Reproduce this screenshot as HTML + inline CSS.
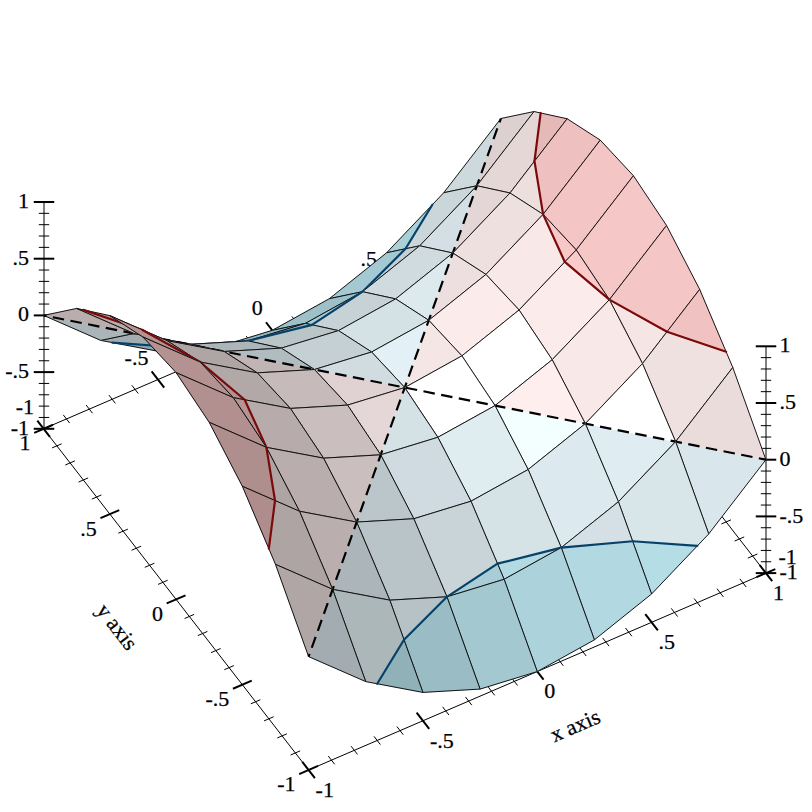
<!DOCTYPE html>
<html><head><meta charset="utf-8"><style>
html,body{margin:0;padding:0;background:#fff;}
svg{display:block;}
text{font-family:"Liberation Serif",serif;font-size:22px;fill:#000;stroke:#000;stroke-width:0.25px;}
</style></head><body>
<svg width="812" height="812" viewBox="0 0 812 812">
<rect width="812" height="812" fill="#fff"/>
<line x1="308.60" y1="770.00" x2="765.90" y2="573.10" stroke="#000" stroke-width="1.0"/>
<line x1="314.89" y1="778.10" x2="302.31" y2="761.90" stroke="#000" stroke-width="2.0"/>
<line x1="334.65" y1="764.26" x2="328.28" y2="756.05" stroke="#000" stroke-width="1.0"/>
<line x1="357.52" y1="754.42" x2="351.14" y2="746.20" stroke="#000" stroke-width="1.0"/>
<line x1="380.38" y1="744.57" x2="374.01" y2="736.36" stroke="#000" stroke-width="1.0"/>
<line x1="403.25" y1="734.73" x2="396.87" y2="726.51" stroke="#000" stroke-width="1.0"/>
<line x1="429.21" y1="728.87" x2="416.64" y2="712.68" stroke="#000" stroke-width="2.0"/>
<line x1="448.98" y1="715.04" x2="442.60" y2="706.82" stroke="#000" stroke-width="1.0"/>
<line x1="471.84" y1="705.19" x2="465.47" y2="696.98" stroke="#000" stroke-width="1.0"/>
<line x1="494.71" y1="695.35" x2="488.33" y2="687.13" stroke="#000" stroke-width="1.0"/>
<line x1="517.57" y1="685.50" x2="511.20" y2="677.29" stroke="#000" stroke-width="1.0"/>
<line x1="543.54" y1="679.65" x2="530.96" y2="663.45" stroke="#000" stroke-width="2.0"/>
<line x1="563.30" y1="665.81" x2="556.93" y2="657.60" stroke="#000" stroke-width="1.0"/>
<line x1="586.17" y1="655.97" x2="579.79" y2="647.75" stroke="#000" stroke-width="1.0"/>
<line x1="609.03" y1="646.12" x2="602.66" y2="637.91" stroke="#000" stroke-width="1.0"/>
<line x1="631.90" y1="636.28" x2="625.52" y2="628.06" stroke="#000" stroke-width="1.0"/>
<line x1="657.86" y1="630.42" x2="645.29" y2="614.23" stroke="#000" stroke-width="2.0"/>
<line x1="677.63" y1="616.59" x2="671.25" y2="608.37" stroke="#000" stroke-width="1.0"/>
<line x1="700.49" y1="606.74" x2="694.12" y2="598.53" stroke="#000" stroke-width="1.0"/>
<line x1="723.36" y1="596.90" x2="716.98" y2="588.68" stroke="#000" stroke-width="1.0"/>
<line x1="746.22" y1="587.05" x2="739.85" y2="578.84" stroke="#000" stroke-width="1.0"/>
<line x1="772.19" y1="581.20" x2="759.61" y2="565.00" stroke="#000" stroke-width="2.0"/>
<line x1="308.60" y1="770.00" x2="43.60" y2="428.80" stroke="#000" stroke-width="1.0"/>
<line x1="299.19" y1="774.05" x2="318.01" y2="765.95" stroke="#000" stroke-width="2.0"/>
<line x1="290.57" y1="755.00" x2="300.13" y2="750.88" stroke="#000" stroke-width="1.0"/>
<line x1="277.32" y1="737.94" x2="286.88" y2="733.82" stroke="#000" stroke-width="1.0"/>
<line x1="264.07" y1="720.88" x2="273.63" y2="716.76" stroke="#000" stroke-width="1.0"/>
<line x1="250.82" y1="703.82" x2="260.38" y2="699.70" stroke="#000" stroke-width="1.0"/>
<line x1="232.94" y1="688.75" x2="251.76" y2="680.65" stroke="#000" stroke-width="2.0"/>
<line x1="224.32" y1="669.70" x2="233.88" y2="665.58" stroke="#000" stroke-width="1.0"/>
<line x1="211.07" y1="652.64" x2="220.63" y2="648.52" stroke="#000" stroke-width="1.0"/>
<line x1="197.82" y1="635.58" x2="207.38" y2="631.46" stroke="#000" stroke-width="1.0"/>
<line x1="184.57" y1="618.52" x2="194.13" y2="614.40" stroke="#000" stroke-width="1.0"/>
<line x1="166.69" y1="603.45" x2="185.51" y2="595.35" stroke="#000" stroke-width="2.0"/>
<line x1="158.07" y1="584.40" x2="167.63" y2="580.28" stroke="#000" stroke-width="1.0"/>
<line x1="144.82" y1="567.34" x2="154.38" y2="563.22" stroke="#000" stroke-width="1.0"/>
<line x1="131.57" y1="550.28" x2="141.13" y2="546.16" stroke="#000" stroke-width="1.0"/>
<line x1="118.32" y1="533.22" x2="127.88" y2="529.10" stroke="#000" stroke-width="1.0"/>
<line x1="100.44" y1="518.15" x2="119.26" y2="510.05" stroke="#000" stroke-width="2.0"/>
<line x1="91.82" y1="499.10" x2="101.38" y2="494.98" stroke="#000" stroke-width="1.0"/>
<line x1="78.57" y1="482.04" x2="88.13" y2="477.92" stroke="#000" stroke-width="1.0"/>
<line x1="65.32" y1="464.98" x2="74.88" y2="460.86" stroke="#000" stroke-width="1.0"/>
<line x1="52.07" y1="447.92" x2="61.63" y2="443.80" stroke="#000" stroke-width="1.0"/>
<line x1="34.19" y1="432.85" x2="53.01" y2="424.75" stroke="#000" stroke-width="2.0"/>
<line x1="43.60" y1="428.80" x2="500.90" y2="231.90" stroke="#000" stroke-width="1.0"/>
<line x1="49.89" y1="436.90" x2="37.31" y2="420.70" stroke="#000" stroke-width="2.0"/>
<line x1="69.65" y1="423.06" x2="63.28" y2="414.85" stroke="#000" stroke-width="1.0"/>
<line x1="92.52" y1="413.22" x2="86.14" y2="405.00" stroke="#000" stroke-width="1.0"/>
<line x1="115.38" y1="403.37" x2="109.01" y2="395.16" stroke="#000" stroke-width="1.0"/>
<line x1="138.25" y1="393.53" x2="131.87" y2="385.31" stroke="#000" stroke-width="1.0"/>
<line x1="164.21" y1="387.67" x2="151.64" y2="371.48" stroke="#000" stroke-width="2.0"/>
<line x1="183.98" y1="373.84" x2="177.60" y2="365.62" stroke="#000" stroke-width="1.0"/>
<line x1="206.84" y1="363.99" x2="200.47" y2="355.78" stroke="#000" stroke-width="1.0"/>
<line x1="229.71" y1="354.15" x2="223.33" y2="345.93" stroke="#000" stroke-width="1.0"/>
<line x1="252.57" y1="344.30" x2="246.20" y2="336.09" stroke="#000" stroke-width="1.0"/>
<line x1="278.54" y1="338.45" x2="265.96" y2="322.25" stroke="#000" stroke-width="2.0"/>
<line x1="298.30" y1="324.61" x2="291.93" y2="316.40" stroke="#000" stroke-width="1.0"/>
<line x1="321.17" y1="314.77" x2="314.79" y2="306.55" stroke="#000" stroke-width="1.0"/>
<line x1="344.03" y1="304.92" x2="337.66" y2="296.71" stroke="#000" stroke-width="1.0"/>
<line x1="366.90" y1="295.08" x2="360.52" y2="286.86" stroke="#000" stroke-width="1.0"/>
<line x1="392.86" y1="289.22" x2="380.29" y2="273.03" stroke="#000" stroke-width="2.0"/>
<line x1="412.63" y1="275.39" x2="406.25" y2="267.17" stroke="#000" stroke-width="1.0"/>
<line x1="435.49" y1="265.54" x2="429.12" y2="257.33" stroke="#000" stroke-width="1.0"/>
<line x1="458.36" y1="255.70" x2="451.98" y2="247.48" stroke="#000" stroke-width="1.0"/>
<line x1="481.22" y1="245.85" x2="474.85" y2="237.64" stroke="#000" stroke-width="1.0"/>
<line x1="507.19" y1="240.00" x2="494.61" y2="223.80" stroke="#000" stroke-width="2.0"/>
<line x1="765.90" y1="573.10" x2="500.90" y2="231.90" stroke="#000" stroke-width="1.0"/>
<line x1="756.49" y1="577.15" x2="775.31" y2="569.05" stroke="#000" stroke-width="2.0"/>
<line x1="747.87" y1="558.10" x2="757.43" y2="553.98" stroke="#000" stroke-width="1.0"/>
<line x1="734.62" y1="541.04" x2="744.18" y2="536.92" stroke="#000" stroke-width="1.0"/>
<line x1="721.37" y1="523.98" x2="730.93" y2="519.86" stroke="#000" stroke-width="1.0"/>
<line x1="708.12" y1="506.92" x2="717.68" y2="502.80" stroke="#000" stroke-width="1.0"/>
<line x1="690.24" y1="491.85" x2="709.06" y2="483.75" stroke="#000" stroke-width="2.0"/>
<line x1="681.62" y1="472.80" x2="691.18" y2="468.68" stroke="#000" stroke-width="1.0"/>
<line x1="668.37" y1="455.74" x2="677.93" y2="451.62" stroke="#000" stroke-width="1.0"/>
<line x1="655.12" y1="438.68" x2="664.68" y2="434.56" stroke="#000" stroke-width="1.0"/>
<line x1="641.87" y1="421.62" x2="651.43" y2="417.50" stroke="#000" stroke-width="1.0"/>
<line x1="623.99" y1="406.55" x2="642.81" y2="398.45" stroke="#000" stroke-width="2.0"/>
<line x1="615.37" y1="387.50" x2="624.93" y2="383.38" stroke="#000" stroke-width="1.0"/>
<line x1="602.12" y1="370.44" x2="611.68" y2="366.32" stroke="#000" stroke-width="1.0"/>
<line x1="588.87" y1="353.38" x2="598.43" y2="349.26" stroke="#000" stroke-width="1.0"/>
<line x1="575.62" y1="336.32" x2="585.18" y2="332.20" stroke="#000" stroke-width="1.0"/>
<line x1="557.74" y1="321.25" x2="576.56" y2="313.15" stroke="#000" stroke-width="2.0"/>
<line x1="549.12" y1="302.20" x2="558.68" y2="298.08" stroke="#000" stroke-width="1.0"/>
<line x1="535.87" y1="285.14" x2="545.43" y2="281.02" stroke="#000" stroke-width="1.0"/>
<line x1="522.62" y1="268.08" x2="532.18" y2="263.96" stroke="#000" stroke-width="1.0"/>
<line x1="509.37" y1="251.02" x2="518.93" y2="246.90" stroke="#000" stroke-width="1.0"/>
<line x1="491.49" y1="235.95" x2="510.31" y2="227.85" stroke="#000" stroke-width="2.0"/>
<line x1="44.00" y1="428.80" x2="44.00" y2="202.00" stroke="#000" stroke-width="1.0"/>
<line x1="33.75" y1="428.80" x2="54.25" y2="428.80" stroke="#000" stroke-width="2.0"/>
<line x1="38.80" y1="417.46" x2="49.20" y2="417.46" stroke="#000" stroke-width="1.0"/>
<line x1="38.80" y1="406.12" x2="49.20" y2="406.12" stroke="#000" stroke-width="1.0"/>
<line x1="38.80" y1="394.78" x2="49.20" y2="394.78" stroke="#000" stroke-width="1.0"/>
<line x1="38.80" y1="383.44" x2="49.20" y2="383.44" stroke="#000" stroke-width="1.0"/>
<line x1="33.75" y1="372.10" x2="54.25" y2="372.10" stroke="#000" stroke-width="2.0"/>
<line x1="38.80" y1="360.76" x2="49.20" y2="360.76" stroke="#000" stroke-width="1.0"/>
<line x1="38.80" y1="349.42" x2="49.20" y2="349.42" stroke="#000" stroke-width="1.0"/>
<line x1="38.80" y1="338.08" x2="49.20" y2="338.08" stroke="#000" stroke-width="1.0"/>
<line x1="38.80" y1="326.74" x2="49.20" y2="326.74" stroke="#000" stroke-width="1.0"/>
<line x1="33.75" y1="315.40" x2="54.25" y2="315.40" stroke="#000" stroke-width="2.0"/>
<line x1="38.80" y1="304.06" x2="49.20" y2="304.06" stroke="#000" stroke-width="1.0"/>
<line x1="38.80" y1="292.72" x2="49.20" y2="292.72" stroke="#000" stroke-width="1.0"/>
<line x1="38.80" y1="281.38" x2="49.20" y2="281.38" stroke="#000" stroke-width="1.0"/>
<line x1="38.80" y1="270.04" x2="49.20" y2="270.04" stroke="#000" stroke-width="1.0"/>
<line x1="33.75" y1="258.70" x2="54.25" y2="258.70" stroke="#000" stroke-width="2.0"/>
<line x1="38.80" y1="247.36" x2="49.20" y2="247.36" stroke="#000" stroke-width="1.0"/>
<line x1="38.80" y1="236.02" x2="49.20" y2="236.02" stroke="#000" stroke-width="1.0"/>
<line x1="38.80" y1="224.68" x2="49.20" y2="224.68" stroke="#000" stroke-width="1.0"/>
<line x1="38.80" y1="213.34" x2="49.20" y2="213.34" stroke="#000" stroke-width="1.0"/>
<line x1="33.75" y1="202.00" x2="54.25" y2="202.00" stroke="#000" stroke-width="2.0"/>
<line x1="766.00" y1="573.10" x2="766.00" y2="346.30" stroke="#000" stroke-width="1.0"/>
<line x1="755.75" y1="573.10" x2="776.25" y2="573.10" stroke="#000" stroke-width="2.0"/>
<line x1="760.80" y1="561.76" x2="771.20" y2="561.76" stroke="#000" stroke-width="1.0"/>
<line x1="760.80" y1="550.42" x2="771.20" y2="550.42" stroke="#000" stroke-width="1.0"/>
<line x1="760.80" y1="539.08" x2="771.20" y2="539.08" stroke="#000" stroke-width="1.0"/>
<line x1="760.80" y1="527.74" x2="771.20" y2="527.74" stroke="#000" stroke-width="1.0"/>
<line x1="755.75" y1="516.40" x2="776.25" y2="516.40" stroke="#000" stroke-width="2.0"/>
<line x1="760.80" y1="505.06" x2="771.20" y2="505.06" stroke="#000" stroke-width="1.0"/>
<line x1="760.80" y1="493.72" x2="771.20" y2="493.72" stroke="#000" stroke-width="1.0"/>
<line x1="760.80" y1="482.38" x2="771.20" y2="482.38" stroke="#000" stroke-width="1.0"/>
<line x1="760.80" y1="471.04" x2="771.20" y2="471.04" stroke="#000" stroke-width="1.0"/>
<line x1="755.75" y1="459.70" x2="776.25" y2="459.70" stroke="#000" stroke-width="2.0"/>
<line x1="760.80" y1="448.36" x2="771.20" y2="448.36" stroke="#000" stroke-width="1.0"/>
<line x1="760.80" y1="437.02" x2="771.20" y2="437.02" stroke="#000" stroke-width="1.0"/>
<line x1="760.80" y1="425.68" x2="771.20" y2="425.68" stroke="#000" stroke-width="1.0"/>
<line x1="760.80" y1="414.34" x2="771.20" y2="414.34" stroke="#000" stroke-width="1.0"/>
<line x1="755.75" y1="403.00" x2="776.25" y2="403.00" stroke="#000" stroke-width="2.0"/>
<line x1="760.80" y1="391.66" x2="771.20" y2="391.66" stroke="#000" stroke-width="1.0"/>
<line x1="760.80" y1="380.32" x2="771.20" y2="380.32" stroke="#000" stroke-width="1.0"/>
<line x1="760.80" y1="368.98" x2="771.20" y2="368.98" stroke="#000" stroke-width="1.0"/>
<line x1="760.80" y1="357.64" x2="771.20" y2="357.64" stroke="#000" stroke-width="1.0"/>
<line x1="755.75" y1="346.30" x2="776.25" y2="346.30" stroke="#000" stroke-width="2.0"/>
<text transform="translate(29.00,434.70)" text-anchor="end">-1</text>
<text transform="translate(29.00,378.00)" text-anchor="end">-.5</text>
<text transform="translate(29.00,321.30)" text-anchor="end">0</text>
<text transform="translate(29.00,264.60)" text-anchor="end">.5</text>
<text transform="translate(29.00,207.90)" text-anchor="end">1</text>
<text transform="translate(779.50,579.20)" text-anchor="start">-1</text>
<text transform="translate(779.50,522.50)" text-anchor="start">-.5</text>
<text transform="translate(779.50,465.80)" text-anchor="start">0</text>
<text transform="translate(779.50,409.10)" text-anchor="start">.5</text>
<text transform="translate(779.50,352.40)" text-anchor="start">1</text>
<text transform="translate(315.60,796.90)" text-anchor="start">-1</text>
<text transform="translate(429.93,747.67)" text-anchor="start">-.5</text>
<text transform="translate(544.25,698.45)" text-anchor="start">0</text>
<text transform="translate(658.58,649.22)" text-anchor="start">.5</text>
<text transform="translate(772.90,600.00)" text-anchor="start">1</text>
<text transform="translate(295.60,791.40)" text-anchor="end">-1</text>
<text transform="translate(229.35,706.10)" text-anchor="end">-.5</text>
<text transform="translate(163.10,620.80)" text-anchor="end">0</text>
<text transform="translate(96.85,535.50)" text-anchor="end">.5</text>
<text transform="translate(30.60,450.20)" text-anchor="end">1</text>
<text transform="translate(34.10,413.80)" text-anchor="end">-1</text>
<text transform="translate(148.43,364.58)" text-anchor="end">-.5</text>
<text transform="translate(262.75,315.35)" text-anchor="end">0</text>
<text transform="translate(377.08,266.12)" text-anchor="end">.5</text>
<text transform="translate(491.40,216.90)" text-anchor="end">1</text>
<text transform="translate(778.40,563.60)" text-anchor="start">-1</text>
<text transform="translate(712.15,478.30)" text-anchor="start">-.5</text>
<text transform="translate(645.90,393.00)" text-anchor="start">0</text>
<text transform="translate(579.65,307.70)" text-anchor="start">.5</text>
<text transform="translate(513.40,222.40)" text-anchor="start">1</text>
<text transform="translate(575.2,725.7) rotate(-23.3) translate(0,7.2)" text-anchor="middle">x axis</text>
<text transform="translate(117,626.8) rotate(52.2) translate(0,7.2)" text-anchor="middle">y axis</text>
<polygon points="476.86,185.76 476.86,185.76 500.90,118.50 500.90,118.50 443.74,192.72" fill="#cdd9dd" stroke="#cdd9dd" stroke-width="0.6"/>
<polygon points="476.86,185.76 534.02,111.54 500.90,118.50 500.90,118.50 476.86,185.76" fill="#ddd0d0" stroke="#ddd0d0" stroke-width="0.6"/>
<polygon points="476.86,185.76 534.02,111.54 500.90,118.50 443.74,192.72" fill="none" stroke="#000" stroke-width="0.9"/>
<line x1="476.86" y1="185.76" x2="500.90" y2="118.50" stroke="#000" stroke-width="2.2" stroke-dasharray="11.5,6.5" stroke-dashoffset="508.60"/>
<polygon points="432.31,204.74 386.58,252.78 405.50,248.80" fill="#a9cfd7" stroke="#a9cfd7" stroke-width="0.6"/>
<polygon points="419.70,245.81 476.86,185.76 443.74,192.72 432.31,204.74 405.50,248.80" fill="#cad6da" stroke="#cad6da" stroke-width="0.6"/>
<polygon points="476.86,185.76 476.86,185.76 476.86,185.76" fill="#dacccc" stroke="#dacccc" stroke-width="0.6"/>
<polygon points="419.70,245.81 476.86,185.76 443.74,192.72 386.58,252.78" fill="none" stroke="#000" stroke-width="0.9"/>
<line x1="432.31" y1="204.74" x2="405.50" y2="248.80" stroke="#064169" stroke-width="2.2" stroke-linecap="round"/>
<polygon points="476.86,185.76 476.86,185.76 476.86,185.76" fill="#d4e1e6" stroke="#d4e1e6" stroke-width="0.6"/>
<polygon points="509.99,192.97 534.49,161.16 540.65,112.98 534.02,111.54 476.86,185.76" fill="#e6d7d7" stroke="#e6d7d7" stroke-width="0.6"/>
<polygon points="534.49,161.16 567.15,118.75 540.65,112.98" fill="#e6b9b9" stroke="#e6b9b9" stroke-width="0.6"/>
<polygon points="509.99,192.97 567.15,118.75 534.02,111.54 476.86,185.76" fill="none" stroke="#000" stroke-width="0.9"/>
<line x1="534.49" y1="161.16" x2="540.65" y2="112.98" stroke="#7a0a0a" stroke-width="2.2" stroke-linecap="round"/>
<polygon points="362.54,291.69 362.54,291.69 405.50,248.80 386.58,252.78 329.41,298.65" fill="#a5c9d2" stroke="#a5c9d2" stroke-width="0.6"/>
<polygon points="362.54,291.69 419.70,245.81 405.50,248.80 362.54,291.69" fill="#c4d0d4" stroke="#c4d0d4" stroke-width="0.6"/>
<polygon points="362.54,291.69 419.70,245.81 386.58,252.78 329.41,298.65" fill="none" stroke="#000" stroke-width="0.9"/>
<line x1="362.54" y1="291.69" x2="405.50" y2="248.80" stroke="#064169" stroke-width="2.2" stroke-linecap="round"/>
<polygon points="452.83,253.02 452.83,253.02 476.86,185.76 476.86,185.76 419.70,245.81" fill="#d3dfe4" stroke="#d3dfe4" stroke-width="0.6"/>
<polygon points="452.83,253.02 509.99,192.97 476.86,185.76 476.86,185.76 452.83,253.02" fill="#e4d6d6" stroke="#e4d6d6" stroke-width="0.6"/>
<polygon points="452.83,253.02 509.99,192.97 476.86,185.76 419.70,245.81" fill="none" stroke="#000" stroke-width="0.9"/>
<line x1="452.83" y1="253.02" x2="476.86" y2="185.76" stroke="#000" stroke-width="2.2" stroke-dasharray="11.5,6.5" stroke-dashoffset="437.17"/>
<polygon points="305.38,323.39 362.54,291.69 329.41,298.65 272.25,330.35" fill="#9ec1c9" stroke="#9ec1c9" stroke-width="0.6"/>
<polygon points="362.54,291.69 362.54,291.69 362.54,291.69" fill="#bcc8cc" stroke="#bcc8cc" stroke-width="0.6"/>
<polygon points="305.38,323.39 362.54,291.69 329.41,298.65 272.25,330.35" fill="none" stroke="#000" stroke-width="0.9"/>
<polygon points="543.11,214.36 543.11,214.36 534.49,161.16 509.99,192.97" fill="#eedfdf" stroke="#eedfdf" stroke-width="0.6"/>
<polygon points="543.11,214.36 600.27,140.14 567.15,118.75 534.49,161.16 543.11,214.36" fill="#eec0c0" stroke="#eec0c0" stroke-width="0.6"/>
<polygon points="543.11,214.36 600.27,140.14 567.15,118.75 509.99,192.97" fill="none" stroke="#000" stroke-width="0.9"/>
<line x1="543.11" y1="214.36" x2="534.49" y2="161.16" stroke="#7a0a0a" stroke-width="2.2" stroke-linecap="round"/>
<polygon points="362.54,291.69 362.54,291.69 362.54,291.69" fill="#add4dd" stroke="#add4dd" stroke-width="0.6"/>
<polygon points="395.66,298.90 452.83,253.02 419.70,245.81 362.54,291.69" fill="#cfdbdf" stroke="#cfdbdf" stroke-width="0.6"/>
<polygon points="452.83,253.02 452.83,253.02 452.83,253.02" fill="#dfd1d1" stroke="#dfd1d1" stroke-width="0.6"/>
<polygon points="395.66,298.90 452.83,253.02 419.70,245.81 362.54,291.69" fill="none" stroke="#000" stroke-width="0.9"/>
<polygon points="248.21,340.91 305.38,323.39 272.25,330.35 215.09,347.88" fill="#96b7be" stroke="#96b7be" stroke-width="0.6"/>
<polygon points="248.21,340.91 248.21,340.91 248.21,340.91" fill="#b2bdc1" stroke="#b2bdc1" stroke-width="0.6"/>
<polygon points="248.21,340.91 305.38,323.39 272.25,330.35 215.09,347.88" fill="none" stroke="#000" stroke-width="0.9"/>
<polygon points="452.83,253.02 452.83,253.02 452.83,253.02" fill="#ddeaef" stroke="#ddeaef" stroke-width="0.6"/>
<polygon points="485.95,274.41 543.11,214.36 509.99,192.97 452.83,253.02" fill="#efe0e0" stroke="#efe0e0" stroke-width="0.6"/>
<polygon points="543.11,214.36 543.11,214.36 543.11,214.36" fill="#efc1c1" stroke="#efc1c1" stroke-width="0.6"/>
<polygon points="485.95,274.41 543.11,214.36 509.99,192.97 452.83,253.02" fill="none" stroke="#000" stroke-width="0.9"/>
<polygon points="362.54,291.69 362.54,291.69 305.38,323.39 312.00,324.83" fill="#a6cbd4" stroke="#a6cbd4" stroke-width="0.6"/>
<polygon points="338.50,330.60 395.66,298.90 362.54,291.69 362.54,291.69 312.00,324.83" fill="#c6d2d6" stroke="#c6d2d6" stroke-width="0.6"/>
<polygon points="338.50,330.60 395.66,298.90 362.54,291.69 305.38,323.39" fill="none" stroke="#000" stroke-width="0.9"/>
<line x1="362.54" y1="291.69" x2="312.00" y2="324.83" stroke="#064169" stroke-width="2.2" stroke-linecap="round"/>
<polygon points="248.21,340.91 248.21,340.91 215.09,347.88 157.93,351.23 176.85,347.25" fill="#8dacb3" stroke="#8dacb3" stroke-width="0.6"/>
<polygon points="191.05,344.26 248.21,340.91 248.21,340.91 176.85,347.25" fill="#a8b2b5" stroke="#a8b2b5" stroke-width="0.6"/>
<polygon points="191.05,344.26 248.21,340.91 215.09,347.88 157.93,351.23" fill="none" stroke="#000" stroke-width="0.9"/>
<line x1="248.21" y1="340.91" x2="176.85" y2="347.25" stroke="#064169" stroke-width="2.2" stroke-linecap="round"/>
<polygon points="543.11,214.36 543.11,214.36 543.11,214.36" fill="#f4e5e5" stroke="#f4e5e5" stroke-width="0.6"/>
<polygon points="576.24,249.92 633.40,175.70 600.27,140.14 543.11,214.36" fill="#f4c5c5" stroke="#f4c5c5" stroke-width="0.6"/>
<polygon points="576.24,249.92 633.40,175.70 600.27,140.14 543.11,214.36" fill="none" stroke="#000" stroke-width="0.9"/>
<polygon points="428.79,320.29 428.79,320.29 452.83,253.02 452.83,253.02 395.66,298.90" fill="#dce9ed" stroke="#dce9ed" stroke-width="0.6"/>
<polygon points="428.79,320.29 485.95,274.41 452.83,253.02 452.83,253.02 428.79,320.29" fill="#eddfdf" stroke="#eddfdf" stroke-width="0.6"/>
<polygon points="428.79,320.29 485.95,274.41 452.83,253.02 395.66,298.90" fill="none" stroke="#000" stroke-width="0.9"/>
<line x1="428.79" y1="320.29" x2="452.83" y2="253.02" stroke="#000" stroke-width="2.2" stroke-dasharray="11.5,6.5" stroke-dashoffset="365.74"/>
<polygon points="312.00,324.83 305.38,323.39 248.21,340.91 248.21,340.91" fill="#9cbec6" stroke="#9cbec6" stroke-width="0.6"/>
<polygon points="281.34,348.12 338.50,330.60 312.00,324.83 248.21,340.91 248.21,340.91" fill="#bac5c8" stroke="#bac5c8" stroke-width="0.6"/>
<polygon points="281.34,348.12 338.50,330.60 305.38,323.39 248.21,340.91" fill="none" stroke="#000" stroke-width="0.9"/>
<line x1="312.00" y1="324.83" x2="248.21" y2="340.91" stroke="#064169" stroke-width="2.2" stroke-linecap="round"/>
<polygon points="176.85,347.25 157.93,351.23 112.19,342.56" fill="#89a8af" stroke="#89a8af" stroke-width="0.6"/>
<polygon points="133.89,333.44 191.05,344.26 176.85,347.25 112.19,342.56 100.76,340.40" fill="#a3adb1" stroke="#a3adb1" stroke-width="0.6"/>
<polygon points="133.89,333.44 133.89,333.44 133.89,333.44" fill="#b1a6a6" stroke="#b1a6a6" stroke-width="0.6"/>
<polygon points="133.89,333.44 191.05,344.26 157.93,351.23 100.76,340.40" fill="none" stroke="#000" stroke-width="0.9"/>
<line x1="176.85" y1="347.25" x2="112.19" y2="342.56" stroke="#064169" stroke-width="2.2" stroke-linecap="round"/>
<polygon points="519.08,309.97 564.81,261.94 543.11,214.36 543.11,214.36 485.95,274.41" fill="#f8e8e8" stroke="#f8e8e8" stroke-width="0.6"/>
<polygon points="564.81,261.94 576.24,249.92 543.11,214.36 543.11,214.36" fill="#f8c8c8" stroke="#f8c8c8" stroke-width="0.6"/>
<polygon points="519.08,309.97 576.24,249.92 543.11,214.36 485.95,274.41" fill="none" stroke="#000" stroke-width="0.9"/>
<line x1="564.81" y1="261.94" x2="543.11" y2="214.36" stroke="#7a0a0a" stroke-width="2.2" stroke-linecap="round"/>
<polygon points="371.62,351.99 428.79,320.29 395.66,298.90 338.50,330.60" fill="#d4e1e5" stroke="#d4e1e5" stroke-width="0.6"/>
<polygon points="428.79,320.29 428.79,320.29 428.79,320.29" fill="#e5d7d7" stroke="#e5d7d7" stroke-width="0.6"/>
<polygon points="371.62,351.99 428.79,320.29 395.66,298.90 338.50,330.60" fill="none" stroke="#000" stroke-width="0.9"/>
<polygon points="248.21,340.91 248.21,340.91 248.21,340.91" fill="#90b0b8" stroke="#90b0b8" stroke-width="0.6"/>
<polygon points="224.18,351.48 281.34,348.12 248.21,340.91 191.05,344.26" fill="#acb6ba" stroke="#acb6ba" stroke-width="0.6"/>
<polygon points="224.18,351.48 224.18,351.48 224.18,351.48" fill="#baaeae" stroke="#baaeae" stroke-width="0.6"/>
<polygon points="224.18,351.48 281.34,348.12 248.21,340.91 191.05,344.26" fill="none" stroke="#000" stroke-width="0.9"/>
<polygon points="609.36,299.66 609.36,299.66 609.36,299.66" fill="#f6e7e7" stroke="#f6e7e7" stroke-width="0.6"/>
<polygon points="609.36,299.66 666.52,225.44 633.40,175.70 576.24,249.92" fill="#f6c7c7" stroke="#f6c7c7" stroke-width="0.6"/>
<polygon points="609.36,299.66 666.52,225.44 633.40,175.70 576.24,249.92" fill="none" stroke="#000" stroke-width="0.9"/>
<polygon points="133.89,333.44 133.89,333.44 100.76,340.40 43.60,315.40 43.60,315.40" fill="#abb5b9" stroke="#abb5b9" stroke-width="0.6"/>
<polygon points="76.72,308.44 133.89,333.44 133.89,333.44 43.60,315.40 43.60,315.40" fill="#b9adad" stroke="#b9adad" stroke-width="0.6"/>
<polygon points="76.72,308.44 133.89,333.44 100.76,340.40 43.60,315.40" fill="none" stroke="#000" stroke-width="0.9"/>
<line x1="43.60" y1="315.40" x2="133.89" y2="333.44" stroke="#000" stroke-width="2.2" stroke-dasharray="11.5,6.5" stroke-dashoffset="8.60"/>
<polygon points="428.79,320.29 428.79,320.29 428.79,320.29" fill="#e8f6fb" stroke="#e8f6fb" stroke-width="0.6"/>
<polygon points="461.91,355.85 519.08,309.97 485.95,274.41 428.79,320.29" fill="#fbebeb" stroke="#fbebeb" stroke-width="0.6"/>
<polygon points="461.91,355.85 519.08,309.97 485.95,274.41 428.79,320.29" fill="none" stroke="#000" stroke-width="0.9"/>
<polygon points="314.46,369.51 371.62,351.99 338.50,330.60 281.34,348.12" fill="#c4d0d4" stroke="#c4d0d4" stroke-width="0.6"/>
<polygon points="314.46,369.51 314.46,369.51 314.46,369.51" fill="#d4c6c6" stroke="#d4c6c6" stroke-width="0.6"/>
<polygon points="314.46,369.51 371.62,351.99 338.50,330.60 281.34,348.12" fill="none" stroke="#000" stroke-width="0.9"/>
<polygon points="224.18,351.48 224.18,351.48 191.05,344.26 133.89,333.44 133.89,333.44" fill="#a2abaf" stroke="#a2abaf" stroke-width="0.6"/>
<polygon points="167.01,340.65 224.18,351.48 224.18,351.48 133.89,333.44 133.89,333.44" fill="#afa4a4" stroke="#afa4a4" stroke-width="0.6"/>
<polygon points="167.01,340.65 224.18,351.48 191.05,344.26 133.89,333.44" fill="none" stroke="#000" stroke-width="0.9"/>
<line x1="133.89" y1="333.44" x2="224.18" y2="351.48" stroke="#000" stroke-width="2.2" stroke-dasharray="11.5,6.5" stroke-dashoffset="100.67"/>
<polygon points="552.20,359.71 609.36,299.66 609.36,299.66 564.81,261.94 519.08,309.97" fill="#fbebeb" stroke="#fbebeb" stroke-width="0.6"/>
<polygon points="609.36,299.66 609.36,299.66 576.24,249.92 564.81,261.94" fill="#fbcbcb" stroke="#fbcbcb" stroke-width="0.6"/>
<polygon points="552.20,359.71 609.36,299.66 576.24,249.92 519.08,309.97" fill="none" stroke="#000" stroke-width="0.9"/>
<line x1="609.36" y1="299.66" x2="564.81" y2="261.94" stroke="#7a0a0a" stroke-width="2.2" stroke-linecap="round"/>
<polygon points="404.75,387.55 404.75,387.55 428.79,320.29 428.79,320.29 371.62,351.99" fill="#e3f0f5" stroke="#e3f0f5" stroke-width="0.6"/>
<polygon points="404.75,387.55 461.91,355.85 428.79,320.29 428.79,320.29 404.75,387.55" fill="#f5e6e6" stroke="#f5e6e6" stroke-width="0.6"/>
<polygon points="404.75,387.55 461.91,355.85 428.79,320.29 371.62,351.99" fill="none" stroke="#000" stroke-width="0.9"/>
<line x1="404.75" y1="387.55" x2="428.79" y2="320.29" stroke="#000" stroke-width="2.2" stroke-dasharray="11.5,6.5" stroke-dashoffset="294.31"/>
<polygon points="314.46,369.51 314.46,369.51 281.34,348.12 224.18,351.48 224.18,351.48" fill="#b1bcc0" stroke="#b1bcc0" stroke-width="0.6"/>
<polygon points="257.30,372.86 314.46,369.51 314.46,369.51 224.18,351.48 224.18,351.48" fill="#c0b4b4" stroke="#c0b4b4" stroke-width="0.6"/>
<polygon points="257.30,372.86 314.46,369.51 281.34,348.12 224.18,351.48" fill="none" stroke="#000" stroke-width="0.9"/>
<line x1="224.18" y1="351.48" x2="314.46" y2="369.51" stroke="#000" stroke-width="2.2" stroke-dasharray="11.5,6.5" stroke-dashoffset="192.74"/>
<polygon points="642.49,363.57 666.99,331.76 609.36,299.66 609.36,299.66" fill="#f5e5e5" stroke="#f5e5e5" stroke-width="0.6"/>
<polygon points="666.99,331.76 699.65,289.35 666.52,225.44 609.36,299.66 609.36,299.66" fill="#f5c6c6" stroke="#f5c6c6" stroke-width="0.6"/>
<polygon points="642.49,363.57 699.65,289.35 666.52,225.44 609.36,299.66" fill="none" stroke="#000" stroke-width="0.9"/>
<line x1="666.99" y1="331.76" x2="609.36" y2="299.66" stroke="#7a0a0a" stroke-width="2.2" stroke-linecap="round"/>
<polygon points="133.89,333.44 133.89,333.44 133.89,333.44" fill="#aab4b8" stroke="#aab4b8" stroke-width="0.6"/>
<polygon points="142.51,329.94 167.01,340.65 133.89,333.44 76.72,308.44 83.35,309.88" fill="#b8acac" stroke="#b8acac" stroke-width="0.6"/>
<polygon points="109.85,315.65 142.51,329.94 83.35,309.88" fill="#b89595" stroke="#b89595" stroke-width="0.6"/>
<polygon points="109.85,315.65 167.01,340.65 133.89,333.44 76.72,308.44" fill="none" stroke="#000" stroke-width="0.9"/>
<line x1="142.51" y1="329.94" x2="83.35" y2="309.88" stroke="#7a0a0a" stroke-width="2.2" stroke-linecap="round"/>
<polygon points="495.04,405.59 495.04,405.59 495.04,405.59" fill="#ffffff" stroke="#ffffff" stroke-width="0.6"/>
<polygon points="495.04,405.59 552.20,359.71 519.08,309.97 461.91,355.85" fill="#ffffff" stroke="#ffffff" stroke-width="0.6"/>
<polygon points="495.04,405.59 552.20,359.71 519.08,309.97 461.91,355.85" fill="none" stroke="#000" stroke-width="0.9"/>
<polygon points="404.75,387.55 404.75,387.55 371.62,351.99 314.46,369.51 314.46,369.51" fill="#d0dce0" stroke="#d0dce0" stroke-width="0.6"/>
<polygon points="347.59,405.08 404.75,387.55 404.75,387.55 314.46,369.51 314.46,369.51" fill="#e0d2d2" stroke="#e0d2d2" stroke-width="0.6"/>
<polygon points="347.59,405.08 404.75,387.55 371.62,351.99 314.46,369.51" fill="none" stroke="#000" stroke-width="0.9"/>
<line x1="314.46" y1="369.51" x2="404.75" y2="387.55" stroke="#000" stroke-width="2.2" stroke-dasharray="11.5,6.5" stroke-dashoffset="284.81"/>
<polygon points="224.18,351.48 224.18,351.48 224.18,351.48" fill="#a3adb0" stroke="#a3adb0" stroke-width="0.6"/>
<polygon points="200.14,362.04 257.30,372.86 224.18,351.48 167.01,340.65" fill="#b0a5a5" stroke="#b0a5a5" stroke-width="0.6"/>
<polygon points="200.14,362.04 200.14,362.04 200.14,362.04" fill="#b08e8e" stroke="#b08e8e" stroke-width="0.6"/>
<polygon points="200.14,362.04 257.30,372.86 224.18,351.48 167.01,340.65" fill="none" stroke="#000" stroke-width="0.9"/>
<polygon points="585.33,423.62 585.33,423.62 585.33,423.62" fill="#e5f3f8" stroke="#e5f3f8" stroke-width="0.6"/>
<polygon points="585.33,423.62 642.49,363.57 609.36,299.66 552.20,359.71" fill="#f8e8e8" stroke="#f8e8e8" stroke-width="0.6"/>
<polygon points="609.36,299.66 609.36,299.66 609.36,299.66" fill="#f8c8c8" stroke="#f8c8c8" stroke-width="0.6"/>
<polygon points="585.33,423.62 642.49,363.57 609.36,299.66 552.20,359.71" fill="none" stroke="#000" stroke-width="0.9"/>
<polygon points="437.88,437.29 495.04,405.59 495.04,405.59 404.75,387.55 404.75,387.55" fill="#ffffff" stroke="#ffffff" stroke-width="0.6"/>
<polygon points="495.04,405.59 495.04,405.59 461.91,355.85 404.75,387.55 404.75,387.55" fill="#ffffff" stroke="#ffffff" stroke-width="0.6"/>
<polygon points="437.88,437.29 495.04,405.59 461.91,355.85 404.75,387.55" fill="none" stroke="#000" stroke-width="0.9"/>
<line x1="404.75" y1="387.55" x2="495.04" y2="405.59" stroke="#000" stroke-width="2.2" stroke-dasharray="11.5,6.5" stroke-dashoffset="376.89"/>
<polygon points="314.46,369.51 314.46,369.51 314.46,369.51" fill="#b8c2c6" stroke="#b8c2c6" stroke-width="0.6"/>
<polygon points="290.43,408.43 347.59,405.08 314.46,369.51 257.30,372.86" fill="#c6baba" stroke="#c6baba" stroke-width="0.6"/>
<polygon points="290.43,408.43 347.59,405.08 314.46,369.51 257.30,372.86" fill="none" stroke="#000" stroke-width="0.9"/>
<polygon points="675.61,441.66 675.61,441.66 675.61,441.66" fill="#deecf0" stroke="#deecf0" stroke-width="0.6"/>
<polygon points="675.61,441.66 732.77,367.44 726.15,351.82 666.99,331.76 642.49,363.57" fill="#f0e1e1" stroke="#f0e1e1" stroke-width="0.6"/>
<polygon points="726.15,351.82 699.65,289.35 666.99,331.76" fill="#f0c2c2" stroke="#f0c2c2" stroke-width="0.6"/>
<polygon points="675.61,441.66 732.77,367.44 699.65,289.35 642.49,363.57" fill="none" stroke="#000" stroke-width="0.9"/>
<line x1="726.15" y1="351.82" x2="666.99" y2="331.76" stroke="#7a0a0a" stroke-width="2.2" stroke-linecap="round"/>
<polygon points="200.14,362.04 200.14,362.04 167.01,340.65 142.51,329.94" fill="#b6abab" stroke="#b6abab" stroke-width="0.6"/>
<polygon points="142.97,337.04 200.14,362.04 200.14,362.04 142.51,329.94 109.85,315.65" fill="#b69393" stroke="#b69393" stroke-width="0.6"/>
<polygon points="142.97,337.04 200.14,362.04 167.01,340.65 109.85,315.65" fill="none" stroke="#000" stroke-width="0.9"/>
<line x1="200.14" y1="362.04" x2="142.51" y2="329.94" stroke="#7a0a0a" stroke-width="2.2" stroke-linecap="round"/>
<polygon points="528.16,469.50 585.33,423.62 585.33,423.62 495.04,405.59 495.04,405.59" fill="#f3ffff" stroke="#f3ffff" stroke-width="0.6"/>
<polygon points="585.33,423.62 585.33,423.62 552.20,359.71 495.04,405.59 495.04,405.59" fill="#feeeee" stroke="#feeeee" stroke-width="0.6"/>
<polygon points="528.16,469.50 585.33,423.62 552.20,359.71 495.04,405.59" fill="none" stroke="#000" stroke-width="0.9"/>
<line x1="495.04" y1="405.59" x2="585.33" y2="423.62" stroke="#000" stroke-width="2.2" stroke-dasharray="11.5,6.5" stroke-dashoffset="468.96"/>
<polygon points="380.71,454.81 437.88,437.29 404.75,387.55 404.75,387.55 380.71,454.81" fill="#d4e1e5" stroke="#d4e1e5" stroke-width="0.6"/>
<polygon points="380.71,454.81 380.71,454.81 404.75,387.55 404.75,387.55 347.59,405.08" fill="#e5d7d7" stroke="#e5d7d7" stroke-width="0.6"/>
<polygon points="380.71,454.81 437.88,437.29 404.75,387.55 347.59,405.08" fill="none" stroke="#000" stroke-width="0.9"/>
<line x1="380.71" y1="454.81" x2="404.75" y2="387.55" stroke="#000" stroke-width="2.2" stroke-dasharray="11.5,6.5" stroke-dashoffset="222.89"/>
<polygon points="244.69,399.77 290.43,408.43 257.30,372.86 200.14,362.04 200.14,362.04" fill="#b3a8a8" stroke="#b3a8a8" stroke-width="0.6"/>
<polygon points="233.26,397.60 244.69,399.77 200.14,362.04 200.14,362.04" fill="#b39191" stroke="#b39191" stroke-width="0.6"/>
<polygon points="233.26,397.60 290.43,408.43 257.30,372.86 200.14,362.04" fill="none" stroke="#000" stroke-width="0.9"/>
<line x1="244.69" y1="399.77" x2="200.14" y2="362.04" stroke="#7a0a0a" stroke-width="2.2" stroke-linecap="round"/>
<polygon points="618.45,501.71 675.61,441.66 675.61,441.66 585.33,423.62 585.33,423.62" fill="#dfecf1" stroke="#dfecf1" stroke-width="0.6"/>
<polygon points="675.61,441.66 675.61,441.66 642.49,363.57 585.33,423.62 585.33,423.62" fill="#ffffff" stroke="#ffffff" stroke-width="0.6"/>
<polygon points="618.45,501.71 675.61,441.66 642.49,363.57 585.33,423.62" fill="none" stroke="#000" stroke-width="0.9"/>
<line x1="585.33" y1="423.62" x2="675.61" y2="441.66" stroke="#000" stroke-width="2.2" stroke-dasharray="11.5,6.5" stroke-dashoffset="561.03"/>
<polygon points="471.00,501.20 528.16,469.50 495.04,405.59 437.88,437.29" fill="#dfedf1" stroke="#dfedf1" stroke-width="0.6"/>
<polygon points="495.04,405.59 495.04,405.59 495.04,405.59" fill="#f1e2e2" stroke="#f1e2e2" stroke-width="0.6"/>
<polygon points="471.00,501.20 528.16,469.50 495.04,405.59 437.88,437.29" fill="none" stroke="#000" stroke-width="0.9"/>
<polygon points="380.71,454.81 380.71,454.81 380.71,454.81" fill="#bbc6ca" stroke="#bbc6ca" stroke-width="0.6"/>
<polygon points="323.55,458.16 380.71,454.81 347.59,405.08 290.43,408.43" fill="#cabebe" stroke="#cabebe" stroke-width="0.6"/>
<polygon points="323.55,458.16 380.71,454.81 347.59,405.08 290.43,408.43" fill="none" stroke="#000" stroke-width="0.9"/>
<polygon points="708.74,533.92 765.90,459.70 765.90,459.70 675.61,441.66 675.61,441.66" fill="#d9e6eb" stroke="#d9e6eb" stroke-width="0.6"/>
<polygon points="765.90,459.70 765.90,459.70 732.77,367.44 675.61,441.66 675.61,441.66" fill="#ebdcdc" stroke="#ebdcdc" stroke-width="0.6"/>
<polygon points="708.74,533.92 765.90,459.70 732.77,367.44 675.61,441.66" fill="none" stroke="#000" stroke-width="0.9"/>
<line x1="675.61" y1="441.66" x2="765.90" y2="459.70" stroke="#000" stroke-width="2.2" stroke-dasharray="11.5,6.5" stroke-dashoffset="653.10"/>
<polygon points="200.14,362.04 200.14,362.04 200.14,362.04" fill="#b4a9a9" stroke="#b4a9a9" stroke-width="0.6"/>
<polygon points="176.10,372.60 233.26,397.60 200.14,362.04 142.97,337.04" fill="#b49292" stroke="#b49292" stroke-width="0.6"/>
<polygon points="176.10,372.60 233.26,397.60 200.14,362.04 142.97,337.04" fill="none" stroke="#000" stroke-width="0.9"/>
<polygon points="561.29,547.59 561.29,547.59 561.29,547.59" fill="#b9e2eb" stroke="#b9e2eb" stroke-width="0.6"/>
<polygon points="561.29,547.59 618.45,501.71 585.33,423.62 528.16,469.50" fill="#dce9ee" stroke="#dce9ee" stroke-width="0.6"/>
<polygon points="585.33,423.62 585.33,423.62 585.33,423.62" fill="#eedfdf" stroke="#eedfdf" stroke-width="0.6"/>
<polygon points="561.29,547.59 618.45,501.71 585.33,423.62 528.16,469.50" fill="none" stroke="#000" stroke-width="0.9"/>
<polygon points="413.84,518.73 471.00,501.20 437.88,437.29 380.71,454.81" fill="#cfdbe0" stroke="#cfdbe0" stroke-width="0.6"/>
<polygon points="380.71,454.81 380.71,454.81 380.71,454.81" fill="#e0d2d2" stroke="#e0d2d2" stroke-width="0.6"/>
<polygon points="413.84,518.73 471.00,501.20 437.88,437.29 380.71,454.81" fill="none" stroke="#000" stroke-width="0.9"/>
<polygon points="266.39,447.34 323.55,458.16 290.43,408.43 244.69,399.77 266.39,447.34" fill="#b7abab" stroke="#b7abab" stroke-width="0.6"/>
<polygon points="266.39,447.34 266.39,447.34 244.69,399.77 233.26,397.60" fill="#b79494" stroke="#b79494" stroke-width="0.6"/>
<polygon points="266.39,447.34 323.55,458.16 290.43,408.43 233.26,397.60" fill="none" stroke="#000" stroke-width="0.9"/>
<line x1="266.39" y1="447.34" x2="244.69" y2="399.77" stroke="#7a0a0a" stroke-width="2.2" stroke-linecap="round"/>
<polygon points="651.58,593.97 697.31,545.94 632.65,541.25" fill="#b5dde6" stroke="#b5dde6" stroke-width="0.6"/>
<polygon points="697.31,545.94 708.74,533.92 675.61,441.66 618.45,501.71 632.65,541.25" fill="#d8e5e9" stroke="#d8e5e9" stroke-width="0.6"/>
<polygon points="675.61,441.66 675.61,441.66 675.61,441.66" fill="#e9dbdb" stroke="#e9dbdb" stroke-width="0.6"/>
<polygon points="651.58,593.97 708.74,533.92 675.61,441.66 618.45,501.71" fill="none" stroke="#000" stroke-width="0.9"/>
<line x1="697.31" y1="545.94" x2="632.65" y2="541.25" stroke="#064169" stroke-width="2.2" stroke-linecap="round"/>
<polygon points="504.12,579.29 561.29,547.59 561.29,547.59 497.50,563.67" fill="#b3dae3" stroke="#b3dae3" stroke-width="0.6"/>
<polygon points="561.29,547.59 561.29,547.59 528.16,469.50 471.00,501.20 497.50,563.67" fill="#d5e2e6" stroke="#d5e2e6" stroke-width="0.6"/>
<polygon points="504.12,579.29 561.29,547.59 528.16,469.50 471.00,501.20" fill="none" stroke="#000" stroke-width="0.9"/>
<line x1="561.29" y1="547.59" x2="497.50" y2="563.67" stroke="#064169" stroke-width="2.2" stroke-linecap="round"/>
<polygon points="356.68,522.08 413.84,518.73 380.71,454.81 380.71,454.81 356.68,522.08" fill="#bbc6ca" stroke="#bbc6ca" stroke-width="0.6"/>
<polygon points="356.68,522.08 356.68,522.08 380.71,454.81 380.71,454.81 323.55,458.16" fill="#cabebe" stroke="#cabebe" stroke-width="0.6"/>
<polygon points="356.68,522.08 413.84,518.73 380.71,454.81 323.55,458.16" fill="none" stroke="#000" stroke-width="0.9"/>
<line x1="356.68" y1="522.08" x2="380.71" y2="454.81" stroke="#000" stroke-width="2.2" stroke-dasharray="11.5,6.5" stroke-dashoffset="151.46"/>
<polygon points="266.39,447.34 266.39,447.34 266.39,447.34" fill="#b2a7a7" stroke="#b2a7a7" stroke-width="0.6"/>
<polygon points="209.22,422.34 266.39,447.34 233.26,397.60 176.10,372.60" fill="#b29090" stroke="#b29090" stroke-width="0.6"/>
<polygon points="209.22,422.34 266.39,447.34 233.26,397.60 176.10,372.60" fill="none" stroke="#000" stroke-width="0.9"/>
<polygon points="594.41,639.85 651.58,593.97 632.65,541.25 561.29,547.59 561.29,547.59" fill="#b2d9e2" stroke="#b2d9e2" stroke-width="0.6"/>
<polygon points="632.65,541.25 618.45,501.71 561.29,547.59 561.29,547.59" fill="#d4e0e5" stroke="#d4e0e5" stroke-width="0.6"/>
<polygon points="594.41,639.85 651.58,593.97 618.45,501.71 561.29,547.59" fill="none" stroke="#000" stroke-width="0.9"/>
<line x1="632.65" y1="541.25" x2="561.29" y2="547.59" stroke="#064169" stroke-width="2.2" stroke-linecap="round"/>
<polygon points="446.96,596.81 504.12,579.29 497.50,563.67 446.96,596.81" fill="#a8cdd6" stroke="#a8cdd6" stroke-width="0.6"/>
<polygon points="446.96,596.81 446.96,596.81 497.50,563.67 471.00,501.20 413.84,518.73" fill="#c8d4d8" stroke="#c8d4d8" stroke-width="0.6"/>
<polygon points="446.96,596.81 504.12,579.29 471.00,501.20 413.84,518.73" fill="none" stroke="#000" stroke-width="0.9"/>
<line x1="446.96" y1="596.81" x2="497.50" y2="563.67" stroke="#064169" stroke-width="2.2" stroke-linecap="round"/>
<polygon points="356.68,522.08 356.68,522.08 356.68,522.08" fill="#abb5b9" stroke="#abb5b9" stroke-width="0.6"/>
<polygon points="299.51,511.25 356.68,522.08 323.55,458.16 266.39,447.34" fill="#b9adad" stroke="#b9adad" stroke-width="0.6"/>
<polygon points="266.39,447.34 266.39,447.34 266.39,447.34" fill="#b99595" stroke="#b99595" stroke-width="0.6"/>
<polygon points="299.51,511.25 356.68,522.08 323.55,458.16 266.39,447.34" fill="none" stroke="#000" stroke-width="0.9"/>
<polygon points="537.25,671.55 594.41,639.85 561.29,547.59 504.12,579.29" fill="#acd2db" stroke="#acd2db" stroke-width="0.6"/>
<polygon points="561.29,547.59 561.29,547.59 561.29,547.59" fill="#cdd9dd" stroke="#cdd9dd" stroke-width="0.6"/>
<polygon points="537.25,671.55 594.41,639.85 561.29,547.59 504.12,579.29" fill="none" stroke="#000" stroke-width="0.9"/>
<polygon points="446.96,596.81 446.96,596.81 446.96,596.81" fill="#9cbec6" stroke="#9cbec6" stroke-width="0.6"/>
<polygon points="389.80,600.16 446.96,596.81 413.84,518.73 356.68,522.08" fill="#b9c4c8" stroke="#b9c4c8" stroke-width="0.6"/>
<polygon points="356.68,522.08 356.68,522.08 356.68,522.08" fill="#c8bcbc" stroke="#c8bcbc" stroke-width="0.6"/>
<polygon points="389.80,600.16 446.96,596.81 413.84,518.73 356.68,522.08" fill="none" stroke="#000" stroke-width="0.9"/>
<polygon points="275.01,500.54 299.51,511.25 266.39,447.34 266.39,447.34" fill="#afa4a4" stroke="#afa4a4" stroke-width="0.6"/>
<polygon points="242.35,486.25 275.01,500.54 266.39,447.34 266.39,447.34 209.22,422.34" fill="#af8e8e" stroke="#af8e8e" stroke-width="0.6"/>
<polygon points="242.35,486.25 299.51,511.25 266.39,447.34 209.22,422.34" fill="none" stroke="#000" stroke-width="0.9"/>
<line x1="275.01" y1="500.54" x2="266.39" y2="447.34" stroke="#7a0a0a" stroke-width="2.2" stroke-linecap="round"/>
<polygon points="480.09,689.08 537.25,671.55 504.12,579.29 446.96,596.81" fill="#a3c8d0" stroke="#a3c8d0" stroke-width="0.6"/>
<polygon points="446.96,596.81 446.96,596.81 446.96,596.81" fill="#c3ced2" stroke="#c3ced2" stroke-width="0.6"/>
<polygon points="480.09,689.08 537.25,671.55 504.12,579.29 446.96,596.81" fill="none" stroke="#000" stroke-width="0.9"/>
<polygon points="332.64,589.34 389.80,600.16 356.68,522.08 356.68,522.08 332.64,589.34" fill="#acb6ba" stroke="#acb6ba" stroke-width="0.6"/>
<polygon points="332.64,589.34 332.64,589.34 356.68,522.08 356.68,522.08 299.51,511.25" fill="#baaeae" stroke="#baaeae" stroke-width="0.6"/>
<polygon points="332.64,589.34 389.80,600.16 356.68,522.08 299.51,511.25" fill="none" stroke="#000" stroke-width="0.9"/>
<line x1="332.64" y1="589.34" x2="356.68" y2="522.08" stroke="#000" stroke-width="2.2" stroke-dasharray="11.5,6.5" stroke-dashoffset="80.03"/>
<polygon points="422.93,692.42 480.09,689.08 446.96,596.81 446.96,596.81 404.00,639.70" fill="#9abcc4" stroke="#9abcc4" stroke-width="0.6"/>
<polygon points="446.96,596.81 446.96,596.81 389.80,600.16 404.00,639.70" fill="#b7c2c6" stroke="#b7c2c6" stroke-width="0.6"/>
<polygon points="422.93,692.42 480.09,689.08 446.96,596.81 389.80,600.16" fill="none" stroke="#000" stroke-width="0.9"/>
<line x1="446.96" y1="596.81" x2="404.00" y2="639.70" stroke="#064169" stroke-width="2.2" stroke-linecap="round"/>
<polygon points="332.64,589.34 332.64,589.34 332.64,589.34" fill="#a2abaf" stroke="#a2abaf" stroke-width="0.6"/>
<polygon points="275.48,564.34 332.64,589.34 299.51,511.25 275.01,500.54 268.85,548.72" fill="#afa4a4" stroke="#afa4a4" stroke-width="0.6"/>
<polygon points="275.01,500.54 242.35,486.25 268.85,548.72" fill="#af8d8d" stroke="#af8d8d" stroke-width="0.6"/>
<polygon points="275.48,564.34 332.64,589.34 299.51,511.25 242.35,486.25" fill="none" stroke="#000" stroke-width="0.9"/>
<line x1="275.01" y1="500.54" x2="268.85" y2="548.72" stroke="#7a0a0a" stroke-width="2.2" stroke-linecap="round"/>
<polygon points="377.19,683.77 422.93,692.42 404.00,639.70" fill="#91b1b8" stroke="#91b1b8" stroke-width="0.6"/>
<polygon points="365.76,681.60 377.19,683.77 404.00,639.70 389.80,600.16 332.64,589.34" fill="#acb7ba" stroke="#acb7ba" stroke-width="0.6"/>
<polygon points="332.64,589.34 332.64,589.34 332.64,589.34" fill="#baafaf" stroke="#baafaf" stroke-width="0.6"/>
<polygon points="365.76,681.60 422.93,692.42 389.80,600.16 332.64,589.34" fill="none" stroke="#000" stroke-width="0.9"/>
<line x1="377.19" y1="683.77" x2="404.00" y2="639.70" stroke="#064169" stroke-width="2.2" stroke-linecap="round"/>
<polygon points="308.60,656.60 365.76,681.60 332.64,589.34 332.64,589.34 308.60,656.60" fill="#a3adb1" stroke="#a3adb1" stroke-width="0.6"/>
<polygon points="308.60,656.60 308.60,656.60 332.64,589.34 332.64,589.34 275.48,564.34" fill="#b1a6a6" stroke="#b1a6a6" stroke-width="0.6"/>
<polygon points="308.60,656.60 365.76,681.60 332.64,589.34 275.48,564.34" fill="none" stroke="#000" stroke-width="0.9"/>
<line x1="308.60" y1="656.60" x2="332.64" y2="589.34" stroke="#000" stroke-width="2.2" stroke-dasharray="11.5,6.5" stroke-dashoffset="8.60"/>
</svg></body></html>
